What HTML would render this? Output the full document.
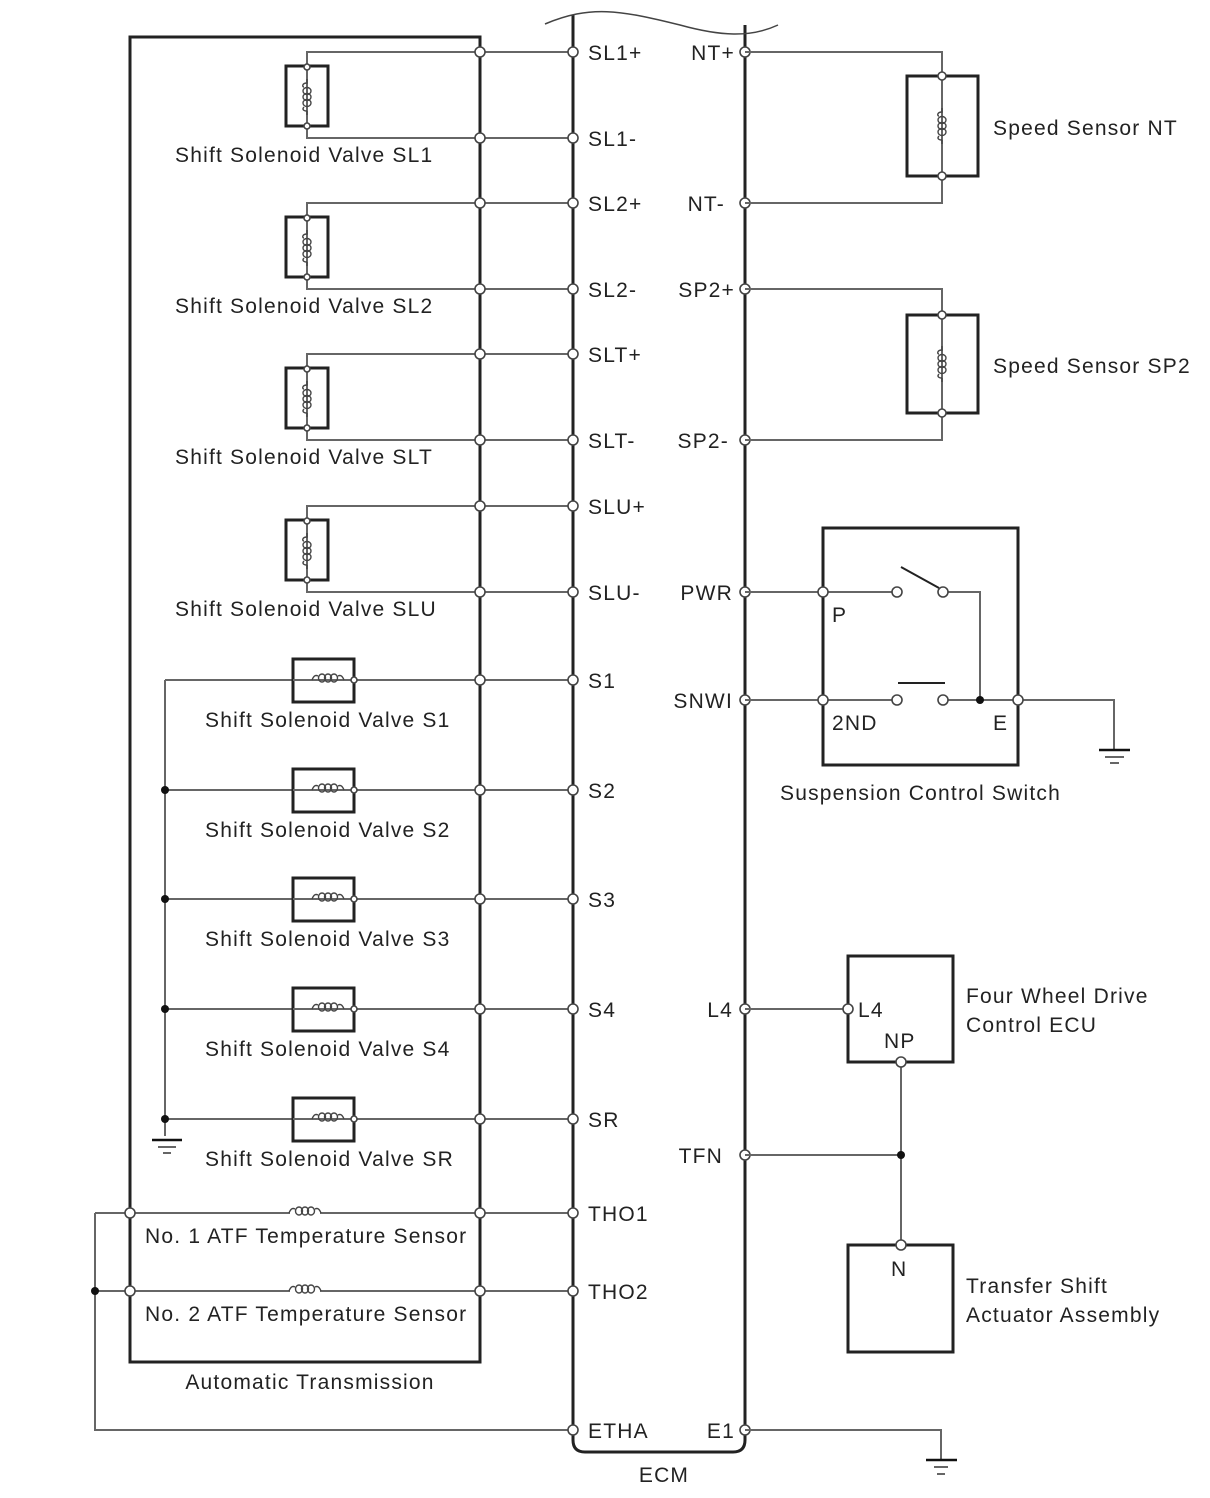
<!DOCTYPE html>
<html><head><meta charset="utf-8"><style>
html,body{margin:0;padding:0;background:#fff;}
svg{display:block;}
text{font-family:"Liberation Sans",sans-serif;font-size:21px;letter-spacing:1.2px;fill:#222;}
.w{stroke:#666;stroke-width:2;fill:none;}
.b{stroke:#222;stroke-width:3;fill:none;}
.c{fill:#fff;stroke:#444;stroke-width:1.6;}
.d{fill:#111;}
.coil{stroke:#444;stroke-width:1.4;fill:none;}
</style></head><body>
<svg width="1210" height="1498" viewBox="0 0 1210 1498" xmlns="http://www.w3.org/2000/svg">
<defs>
<g id="vcoil"><path class="coil" d="M0,-18 L0,-14 C-5,-14 -5,-10 -3,-10 M0,14 L0,18"/>
<ellipse class="coil" cx="0" cy="-6" rx="4" ry="3.5"/><ellipse class="coil" cx="0" cy="0" rx="4" ry="3.5"/><ellipse class="coil" cx="0" cy="6" rx="4" ry="3.5"/>
<path class="coil" d="M-3,10 C-5,12 -4,14 0,14"/></g>
<g id="hcoil"><path class="coil" d="M-16,0 C-14,-5 -12,-5 -10,-4 M10,-4 C12,-5 14,-5 16,0"/>
<ellipse class="coil" cx="-6" cy="-2" rx="3.5" ry="4"/><ellipse class="coil" cx="0" cy="-2" rx="3.5" ry="4"/><ellipse class="coil" cx="6" cy="-2" rx="3.5" ry="4"/></g>
</defs>

<path class="b" d="M130,1362 L130,37 L480,37 L480,1362 Z"/>
<path class="b" d="M573,15 L573,1440 Q573,1452 585,1452 L733,1452 Q745,1452 745,1440 L745,25"/>
<path stroke="#444" stroke-width="1.5" fill="none" d="M545,24 C590,5 620,10 680,25 C720,36 750,38 778,25"/>

<g>
<path class="w" d="M307,67 L307,52 L573,52 M307,126 L307,138 L573,138"/>
<rect class="b" x="286" y="66" width="42" height="60"/>
<path class="w" d="M307,66 L307,126"/>
<use href="#vcoil" x="307" y="97"/>
<circle class="c" cx="307" cy="67" r="3"/><circle class="c" cx="307" cy="126" r="3"/>
<text x="175" y="162">Shift Solenoid Valve SL1</text>
</g>
<g transform="translate(0,151)">
<path class="w" d="M307,67 L307,52 L573,52 M307,126 L307,138 L573,138"/>
<rect class="b" x="286" y="66" width="42" height="60"/>
<path class="w" d="M307,66 L307,126"/>
<use href="#vcoil" x="307" y="97"/>
<circle class="c" cx="307" cy="67" r="3"/><circle class="c" cx="307" cy="126" r="3"/>
<text x="175" y="162">Shift Solenoid Valve SL2</text>
</g>
<g transform="translate(0,302)">
<path class="w" d="M307,67 L307,52 L573,52 M307,126 L307,138 L573,138"/>
<rect class="b" x="286" y="66" width="42" height="60"/>
<path class="w" d="M307,66 L307,126"/>
<use href="#vcoil" x="307" y="97"/>
<circle class="c" cx="307" cy="67" r="3"/><circle class="c" cx="307" cy="126" r="3"/>
<text x="175" y="162">Shift Solenoid Valve SLT</text>
</g>
<g transform="translate(0,454)">
<path class="w" d="M307,67 L307,52 L573,52 M307,126 L307,138 L573,138"/>
<rect class="b" x="286" y="66" width="42" height="60"/>
<path class="w" d="M307,66 L307,126"/>
<use href="#vcoil" x="307" y="97"/>
<circle class="c" cx="307" cy="67" r="3"/><circle class="c" cx="307" cy="126" r="3"/>
<text x="175" y="162">Shift Solenoid Valve SLU</text>
</g>

<path class="w" d="M165,680 L165,1119 L165,1136"/>
<g>
<path class="w" d="M165,680 L573,680"/><rect class="b" x="293" y="659" width="61" height="43" fill="#fff"/>
<path class="w" d="M293,680 L312,680 M345,680 L354,680"/><use href="#hcoil" x="328" y="680"/>
<circle class="c" cx="354" cy="680" r="3"/><text x="205" y="727">Shift Solenoid Valve S1</text></g>
<g transform="translate(0,110)">
<path class="w" d="M165,680 L573,680"/><rect class="b" x="293" y="659" width="61" height="43" fill="#fff"/>
<path class="w" d="M293,680 L312,680 M345,680 L354,680"/><use href="#hcoil" x="328" y="680"/>
<circle class="c" cx="354" cy="680" r="3"/><text x="205" y="727">Shift Solenoid Valve S2</text><circle class="d" cx="165" cy="680" r="4"/></g>
<g transform="translate(0,219)">
<path class="w" d="M165,680 L573,680"/><rect class="b" x="293" y="659" width="61" height="43" fill="#fff"/>
<path class="w" d="M293,680 L312,680 M345,680 L354,680"/><use href="#hcoil" x="328" y="680"/>
<circle class="c" cx="354" cy="680" r="3"/><text x="205" y="727">Shift Solenoid Valve S3</text><circle class="d" cx="165" cy="680" r="4"/></g>
<g transform="translate(0,329)">
<path class="w" d="M165,680 L573,680"/><rect class="b" x="293" y="659" width="61" height="43" fill="#fff"/>
<path class="w" d="M293,680 L312,680 M345,680 L354,680"/><use href="#hcoil" x="328" y="680"/>
<circle class="c" cx="354" cy="680" r="3"/><text x="205" y="727">Shift Solenoid Valve S4</text><circle class="d" cx="165" cy="680" r="4"/></g>
<g transform="translate(0,439)">
<path class="w" d="M165,680 L573,680"/><rect class="b" x="293" y="659" width="61" height="43" fill="#fff"/>
<path class="w" d="M293,680 L312,680 M345,680 L354,680"/><use href="#hcoil" x="328" y="680"/>
<circle class="c" cx="354" cy="680" r="3"/><text x="205" y="727">Shift Solenoid Valve SR</text><circle class="d" cx="165" cy="680" r="4"/></g>
<path stroke="#111" stroke-width="2.5" d="M152,1140 L182,1140"/><path stroke="#333" stroke-width="1.5" d="M158,1147 L176,1147 M163,1153 L171,1153"/>

<path class="w" d="M95,1213 L573,1213 M95,1291 L573,1291 M95,1213 L95,1430 L573,1430"/>
<rect x="290" y="1211" width="30" height="4" fill="#fff"/><rect x="290" y="1289" width="30" height="4" fill="#fff"/>
<use href="#hcoil" x="305" y="1213"/><use href="#hcoil" x="305" y="1291"/>
<circle class="d" cx="95" cy="1291" r="4"/>
<circle class="c" cx="130" cy="1213" r="5"/><circle class="c" cx="130" cy="1291" r="5"/>
<text x="145" y="1243">No. 1 ATF Temperature Sensor</text>
<text x="145" y="1321">No. 2 ATF Temperature Sensor</text>
<text x="310" y="1389" text-anchor="middle">Automatic Transmission</text>
<text x="664" y="1482" text-anchor="middle">ECM</text>

<g class="c">
<circle cx="480" cy="52" r="5"/><circle cx="480" cy="138" r="5"/><circle cx="480" cy="203" r="5"/><circle cx="480" cy="289" r="5"/>
<circle cx="480" cy="354" r="5"/><circle cx="480" cy="440" r="5"/><circle cx="480" cy="506" r="5"/><circle cx="480" cy="592" r="5"/>
<circle cx="480" cy="680" r="5"/><circle cx="480" cy="790" r="5"/><circle cx="480" cy="899" r="5"/><circle cx="480" cy="1009" r="5"/>
<circle cx="480" cy="1119" r="5"/><circle cx="480" cy="1213" r="5"/><circle cx="480" cy="1291" r="5"/>
<circle cx="573" cy="52" r="5"/><circle cx="573" cy="138" r="5"/><circle cx="573" cy="203" r="5"/><circle cx="573" cy="289" r="5"/>
<circle cx="573" cy="354" r="5"/><circle cx="573" cy="440" r="5"/><circle cx="573" cy="506" r="5"/><circle cx="573" cy="592" r="5"/>
<circle cx="573" cy="680" r="5"/><circle cx="573" cy="790" r="5"/><circle cx="573" cy="899" r="5"/><circle cx="573" cy="1009" r="5"/>
<circle cx="573" cy="1119" r="5"/><circle cx="573" cy="1213" r="5"/><circle cx="573" cy="1291" r="5"/><circle cx="573" cy="1430" r="5"/>
<circle cx="745" cy="52" r="5"/><circle cx="745" cy="203" r="5"/><circle cx="745" cy="289" r="5"/><circle cx="745" cy="440" r="5"/>
<circle cx="745" cy="592" r="5"/><circle cx="745" cy="700" r="5"/><circle cx="745" cy="1009" r="5"/><circle cx="745" cy="1155" r="5"/><circle cx="745" cy="1430" r="5"/>
</g>
<g>
<text x="588" y="60">SL1+</text><text x="588" y="146">SL1-</text><text x="588" y="211">SL2+</text><text x="588" y="297">SL2-</text>
<text x="588" y="362">SLT+</text><text x="588" y="448">SLT-</text><text x="588" y="514">SLU+</text><text x="588" y="600">SLU-</text>
<text x="588" y="688">S1</text><text x="588" y="798">S2</text><text x="588" y="907">S3</text><text x="588" y="1017">S4</text>
<text x="588" y="1127">SR</text><text x="588" y="1221">THO1</text><text x="588" y="1299">THO2</text><text x="588" y="1438">ETHA</text>
</g>
<g text-anchor="end">
<text x="735" y="60">NT+</text><text x="725" y="211">NT-</text><text x="735" y="297">SP2+</text><text x="729" y="448">SP2-</text>
<text x="733" y="600">PWR</text><text x="733" y="708">SNWI</text><text x="733" y="1017">L4</text><text x="723" y="1163">TFN</text><text x="735" y="1438">E1</text>
</g>

<g>
<path class="w" d="M745,52 L942,52 L942,76 M942,176 L942,203 L745,203"/>
<rect class="b" x="907" y="76" width="71" height="100"/>
<path class="w" d="M942,76 L942,176"/><use href="#vcoil" x="942" y="126"/>
<circle class="c" cx="942" cy="76" r="4"/><circle class="c" cx="942" cy="176" r="4"/>
<text x="993" y="135">Speed Sensor NT</text>
</g>
<g>
<path class="w" d="M745,289 L942,289 L942,315 M942,413 L942,440 L745,440"/>
<rect class="b" x="907" y="315" width="71" height="98"/>
<path class="w" d="M942,315 L942,413"/><use href="#vcoil" x="942" y="364"/>
<circle class="c" cx="942" cy="315" r="4"/><circle class="c" cx="942" cy="413" r="4"/>
<text x="993" y="373">Speed Sensor SP2</text>
</g>

<rect class="b" x="823" y="528" width="195" height="237"/>
<path class="w" d="M745,592 L897,592 M943,592 L980,592 L980,700 M745,700 L897,700 M943,700 L1114,700 L1114,750"/>
<path stroke="#222" stroke-width="2" d="M901,567 L939,588 M898,683 L945,683"/>
<circle class="c" cx="823" cy="592" r="5"/><circle class="c" cx="897" cy="592" r="5"/><circle class="c" cx="943" cy="592" r="5"/>
<circle class="c" cx="823" cy="700" r="5"/><circle class="c" cx="897" cy="700" r="5"/><circle class="c" cx="943" cy="700" r="5"/>
<circle class="d" cx="980" cy="700" r="4"/><circle class="c" cx="1018" cy="700" r="5"/>
<path stroke="#111" stroke-width="2.5" d="M1099,750 L1130,750"/><path stroke="#333" stroke-width="1.5" d="M1105,757 L1124,757 M1110,763 L1119,763"/>
<text x="832" y="622">P</text><text x="832" y="730">2ND</text><text x="993" y="730">E</text>
<text x="780" y="800">Suspension Control Switch</text>

<rect class="b" x="848" y="956" width="105" height="106"/>
<rect class="b" x="848" y="1245" width="105" height="107"/>
<path class="w" d="M745,1009 L848,1009 M901,1062 L901,1245 M745,1155 L901,1155"/>
<circle class="c" cx="848" cy="1009" r="5"/><circle class="c" cx="901" cy="1062" r="5"/><circle class="c" cx="901" cy="1245" r="5"/>
<circle class="d" cx="901" cy="1155" r="4"/>
<text x="858" y="1017">L4</text><text x="884" y="1048">NP</text><text x="891" y="1276">N</text>
<text x="966" y="1003">Four Wheel Drive</text><text x="966" y="1032">Control ECU</text>
<text x="966" y="1293">Transfer Shift</text><text x="966" y="1322">Actuator Assembly</text>

<path class="w" d="M745,1430 L941,1430 L941,1460"/>
<path stroke="#111" stroke-width="2.5" d="M926,1460 L957,1460"/><path stroke="#333" stroke-width="1.5" d="M934,1467 L948,1467 M937,1474 L945,1474"/>
</svg>
</body></html>
